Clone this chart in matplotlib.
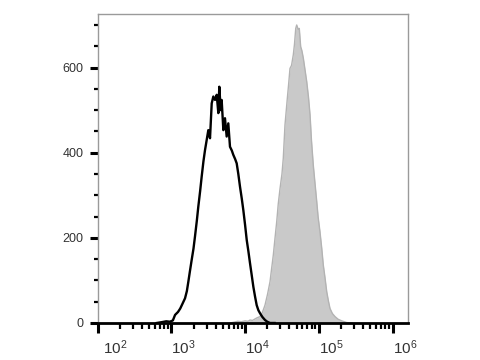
import matplotlib
matplotlib.use("Agg")
import matplotlib.pyplot as plt
import matplotlib.transforms as mtrans
import numpy as np
from matplotlib.ticker import LogLocator, FixedLocator, NullFormatter

plt.rcParams["font.family"] = ["Liberation Sans", "DejaVu Sans"]
plt.rcParams["mathtext.fontset"] = "custom"
plt.rcParams["mathtext.rm"] = "Liberation Sans"
plt.rcParams["mathtext.it"] = "Liberation Sans"
plt.rcParams["mathtext.bf"] = "Liberation Sans"

# Black (unfilled) histogram: log10 fluorescence vs count
black_log10 = [2.80, 2.87, 2.93, 2.98, 3.02, 3.05, 3.09, 3.12, 3.15, 3.185, 3.21, 3.23,
               3.25, 3.275, 3.30, 3.32, 3.345, 3.365, 3.39, 3.411, 3.435, 3.456, 3.479,
               3.501, 3.524, 3.547, 3.569, 3.592, 3.615, 3.637, 3.650, 3.669, 3.682,
               3.705, 3.727, 3.750, 3.772, 3.795, 3.820, 3.840, 3.865, 3.886, 3.908,
               3.931, 3.955, 3.976, 4.000, 4.022, 4.045, 4.067, 4.090, 4.112, 4.135,
               4.157, 4.180, 4.202, 4.235, 4.270, 4.30, 4.338, 4.40]
black_count = [0, 2, 4, 3, 6, 19, 26, 34, 45, 58, 75, 97,
               120, 148, 175, 203, 240, 273, 310, 344, 380, 406, 430,
               453, 434, 516, 532, 524, 536, 493, 555, 500, 524,
               453, 481, 438, 469, 414, 405, 395, 385, 375, 350,
               320, 292, 265, 230, 195, 168, 140, 112, 85, 62,
               42, 30, 23, 14, 7, 3, 0, 0]

# Gray (filled) histogram
gray_log10 = [3.80, 3.85, 3.90, 3.95, 4.00, 4.04, 4.067, 4.10, 4.13, 4.16, 4.202, 4.235,
              4.270, 4.305, 4.338, 4.36, 4.383, 4.405, 4.429, 4.45, 4.474, 4.50, 4.518,
              4.541, 4.573, 4.59, 4.609, 4.63, 4.654, 4.670, 4.687, 4.70, 4.720, 4.735,
              4.754, 4.77, 4.790, 4.81, 4.836, 4.86, 4.881, 4.90, 4.925, 4.95, 4.972,
              4.99, 5.016, 5.04, 5.061, 5.085, 5.107, 5.13, 5.152, 5.185, 5.220, 5.26,
              5.311, 5.379, 5.45]
gray_count = [0, 2, 4, 3, 5, 4, 7, 6, 9, 12, 15, 25,
              42, 68, 97, 128, 160, 198, 238, 280, 316, 350, 387,
              465, 528, 560, 598, 605, 630, 655, 692, 700, 690, 692,
              649, 640, 622, 598, 567, 530, 489, 430, 371, 325, 285,
              250, 214, 175, 136, 105, 74, 52, 34, 22, 15, 9,
              5, 1, 0]

xticks = [1e2, 1e3, 1e4, 1e5, 1e6]
xticklabels = [r"$10^{2}$", r"$10^{3}$", r"$10^{4}$", r"$10^{5}$", r"$10^{6}$"]
yticks = [0, 200, 400, 600]
ytick_labels = ["0", "200", "400", "600"]

fig = plt.figure(figsize=(4.8, 3.6), dpi=100)
ax = fig.add_axes([0.2035, 0.1028, 0.6465, 0.8597])

gx = 10 ** np.array(gray_log10)
ax.fill_between(gx, gray_count, 0, color="#c9c9c9", linewidth=0, zorder=1)
ax.plot(gx, gray_count, color="#b3b3b3", lw=1.0, zorder=2)

bx = 10 ** np.array(black_log10)
ax.plot(bx, black_count, color="black", lw=1.7, zorder=3)

ax.set_xscale("log")
ax.set_xlim(1e2, 10 ** 6.21)
ax.set_ylim(0, 727)

ax.set_xticks(xticks)
ax.set_xticklabels(xticklabels)
ax.xaxis.set_minor_locator(LogLocator(base=10, subs=np.arange(2, 10)))
ax.xaxis.set_minor_formatter(NullFormatter())

ax.set_yticks(yticks)
ax.set_yticklabels(ytick_labels)
ax.yaxis.set_minor_locator(FixedLocator(np.arange(50, 701, 50)))

for s in ["left", "top", "right"]:
    ax.spines[s].set_color("#9a9a9a")
    ax.spines[s].set_linewidth(1.0)
ax.spines["bottom"].set_color("black")
ax.spines["bottom"].set_linewidth(2.0)
ax.spines["bottom"].set_zorder(5)

ax.tick_params(axis="x", which="major", direction="out", length=7, width=2.2,
               color="black", labelsize=11, pad=4, labelcolor="#333333")
ax.tick_params(axis="x", which="minor", direction="out", length=4, width=1.6, color="black")
ax.tick_params(axis="y", which="major", direction="out", length=6, width=2.2,
               color="black", labelsize=9, pad=4, labelcolor="#333333")
ax.tick_params(axis="y", which="minor", direction="out", length=3, width=1.6, color="black")

for i, lab in enumerate(ax.get_xticklabels()):
    lab.set_horizontalalignment("left")
    dx = 5 if i == 0 else 0
    lab.set_transform(lab.get_transform() + mtrans.ScaledTranslation(dx / 100, 0, fig.dpi_scale_trans))

fig.savefig("out.png", dpi=100)
